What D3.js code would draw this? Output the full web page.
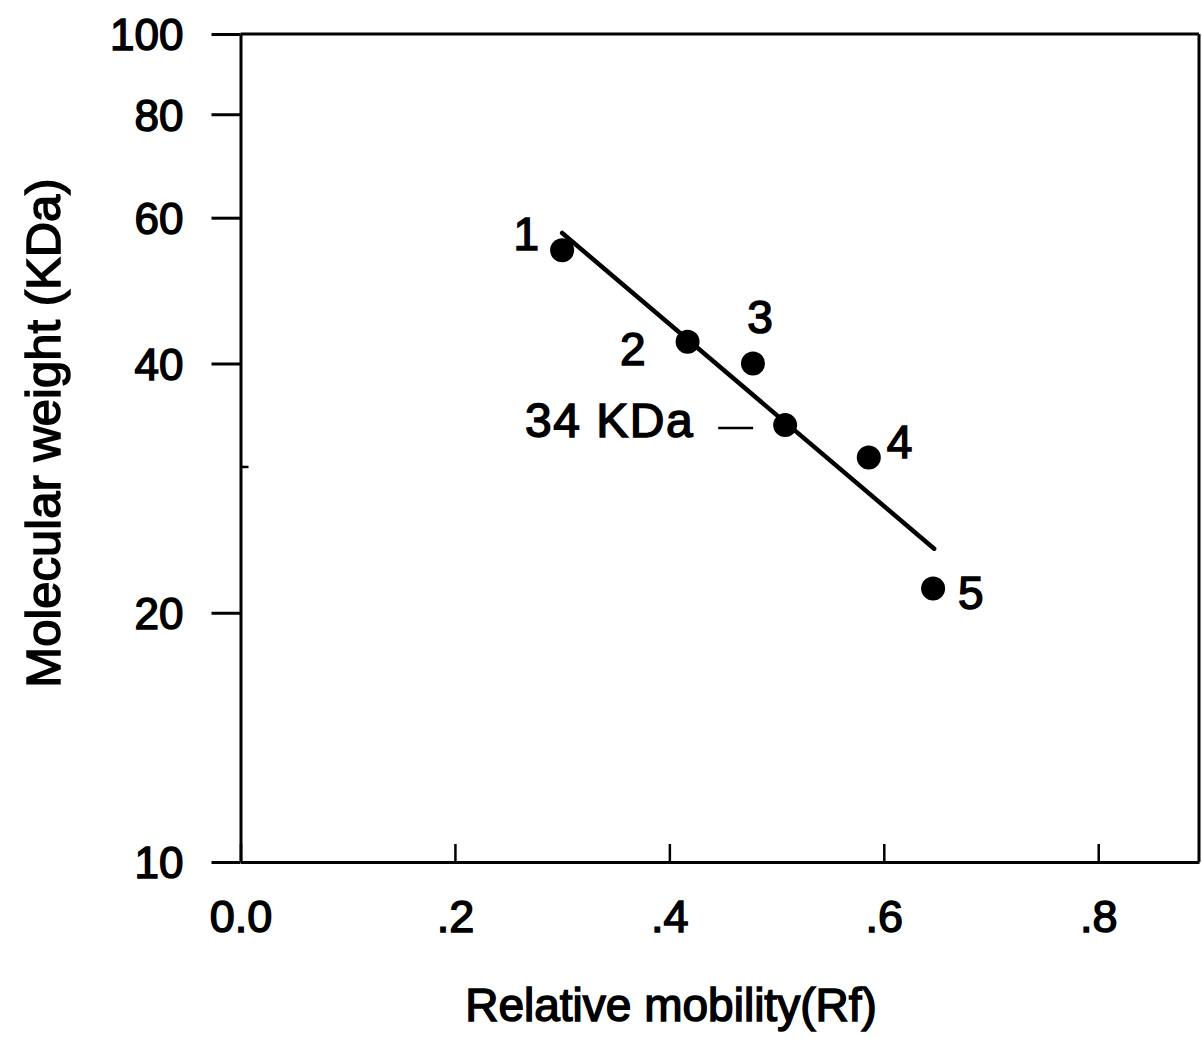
<!DOCTYPE html>
<html>
<head>
<meta charset="utf-8">
<script src="https://cdn.jsdelivr.net/npm/d3@7"></script>
<style>
  html, body { margin: 0; padding: 0; background: #fff; }
  svg { display: block; }
  text { font-family: "Liberation Sans", Arial, sans-serif; fill: #000; }
</style>
</head>
<body>
<script>
// ---- data ----
const categories = ["1", "2", "3", "34 KDa", "4", "5"];
const rfValues = [0.300, 0.417, 0.478, 0.508, 0.586, 0.646];
const mwValues = [54.8, 42.5, 40.0, 33.7, 30.8, 21.4];
const fitRf = [0.300, 0.647];
const fitMw = [57.5, 23.9];
const yTickValues = [10, 20, 40, 60, 80, 100];
const yTickLabels = ["10", "20", "40", "60", "80", "100"];
const yMinorTicks = [30];
const xTickValues = [0, 0.2, 0.4, 0.6, 0.8];
const xTickLabels = ["0.0", ".2", ".4", ".6", ".8"];
const xTitle = "Relative mobility(Rf)";
const yTitle = "Molecular weight (KDa)";

// ---- layout / style ----
const W = 1202, H = 1037;
const plot = { left: 240.5, right: 1199, top: 34, bottom: 862 };
// label offsets relative to each point (px): [dx, dy, anchor, letterSpacing, fontSize]
const labelOffsets = [[-23, 0, "end", 0, 46], [-42, 23, "end", 0, 46], [7, -30, "middle", 0, 46], [-91, 12, "end", 1.5, 48], [18, 1, "start", 0, 46], [25, 21, "start", 0, 46]];

const svg = d3.select("body").append("svg").attr("width", W).attr("height", H);

const x = d3.scaleLinear().domain([0, 0.894]).range([plot.left, plot.right]);
const y = d3.scaleLog().domain([10, 100]).range([plot.bottom, plot.top]);

const textStyle = sel => sel.attr("stroke", "#000").attr("stroke-width", 1.5);

// Y axis (outward ticks)
const yAxis = d3.axisLeft(y).tickValues(yTickValues).tickSize(29).tickSizeOuter(0)
  .tickPadding(28).tickFormat((d, i) => yTickLabels[i]);
const gy = svg.append("g").attr("transform", `translate(${plot.left},0)`).call(yAxis);
gy.select(".domain").attr("stroke-width", 3);
gy.selectAll(".tick line").attr("stroke-width", 3);
gy.selectAll(".tick text").attr("font-size", 44).attr("font-family", null).attr("dy", "0.36em").call(textStyle);

// minor inward tick at 30
svg.append("g").selectAll("line").data(yMinorTicks).join("line")
  .attr("x1", plot.left).attr("x2", plot.left + 8)
  .attr("y1", d => y(d)).attr("y2", d => y(d))
  .attr("stroke", "#000").attr("stroke-width", 2.5);

// X axis (inward ticks)
const xAxis = d3.axisBottom(x).tickValues(xTickValues).tickSize(-18).tickSizeOuter(0)
  .tickPadding(0).tickFormat((d, i) => xTickLabels[i]);
const gx = svg.append("g").attr("transform", `translate(0,${plot.bottom})`).call(xAxis);
gx.select(".domain").attr("stroke-width", 3);
gx.selectAll(".tick line").attr("stroke-width", 2.5);
gx.selectAll(".tick text").attr("font-size", 45).attr("font-family", null)
  .attr("y", 70).attr("dy", 0).call(textStyle);

// top and right frame
svg.append("line").attr("x1", plot.left).attr("x2", plot.right).attr("y1", plot.top).attr("y2", plot.top)
  .attr("stroke", "#000").attr("stroke-width", 3);
svg.append("line").attr("x1", plot.right).attr("x2", plot.right).attr("y1", plot.top).attr("y2", plot.bottom)
  .attr("stroke", "#000").attr("stroke-width", 3);

// fit line
svg.append("line")
  .attr("x1", x(fitRf[0])).attr("y1", y(fitMw[0]))
  .attr("x2", x(fitRf[1])).attr("y2", y(fitMw[1]))
  .attr("stroke", "#000").attr("stroke-width", 4.5).attr("stroke-linecap", "round");

// points
svg.append("g").selectAll("circle").data(rfValues).join("circle")
  .attr("cx", d => x(d)).attr("cy", (d, i) => y(mwValues[i])).attr("r", 12).attr("fill", "#000");

// point labels
svg.append("g").selectAll("text").data(categories).join("text")
  .attr("x", (d, i) => x(rfValues[i]) + labelOffsets[i][0])
  .attr("y", (d, i) => y(mwValues[i]) + labelOffsets[i][1])
  .attr("text-anchor", (d, i) => labelOffsets[i][2])
  .attr("letter-spacing", (d, i) => labelOffsets[i][3])
  .attr("font-size", (d, i) => labelOffsets[i][4]).text(d => d).call(textStyle);

// dash pointing to 34 KDa
const kIdx = categories.indexOf("34 KDa");
svg.append("line")
  .attr("x1", x(rfValues[kIdx]) - 67).attr("x2", x(rfValues[kIdx]) - 32)
  .attr("y1", y(mwValues[kIdx]) + 3).attr("y2", y(mwValues[kIdx]) + 3)
  .attr("stroke", "#000").attr("stroke-width", 2.5);

// axis titles
svg.append("text").attr("x", 671).attr("y", 1021).attr("text-anchor", "middle")
  .attr("font-size", 46).text(xTitle).call(textStyle);
svg.append("text").attr("transform", `translate(60,433) rotate(-90)`).attr("text-anchor", "middle")
  .attr("font-size", 49).text(yTitle).call(textStyle);
</script>
</body>
</html>
